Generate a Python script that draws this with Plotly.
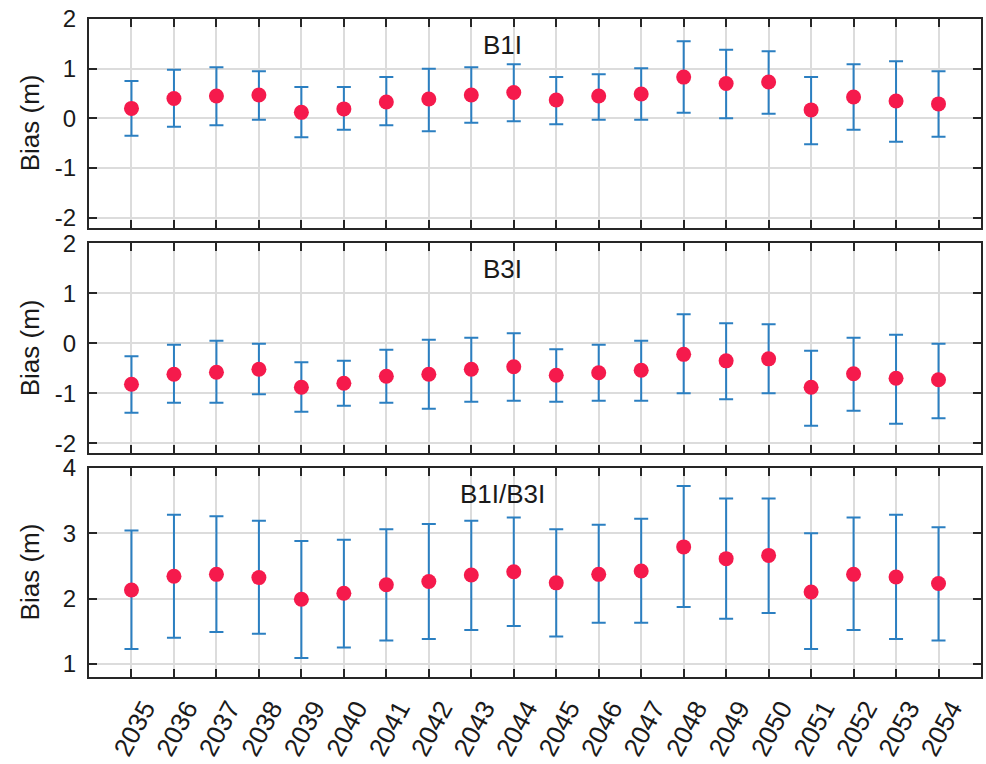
import plotly.graph_objects as go
from plotly.subplots import make_subplots

years = list(range(2035, 2055))

# B1I bias: mean, upper and lower bounds (m)
b1i_mean = [0.20, 0.40, 0.45, 0.47, 0.12, 0.19, 0.33, 0.39, 0.47, 0.52,
            0.37, 0.45, 0.49, 0.83, 0.70, 0.73, 0.17, 0.43, 0.35, 0.29]
b1i_high = [0.75, 0.98, 1.03, 0.95, 0.63, 0.63, 0.83, 1.00, 1.03, 1.09,
            0.83, 0.89, 1.01, 1.55, 1.38, 1.35, 0.83, 1.09, 1.15, 0.95]
b1i_low = [-0.35, -0.17, -0.14, -0.03, -0.38, -0.23, -0.14, -0.26, -0.09, -0.06,
           -0.12, -0.03, -0.03, 0.11, 0.00, 0.09, -0.52, -0.23, -0.47, -0.37]

# B3I bias
b3i_mean = [-0.82, -0.62, -0.58, -0.52, -0.88, -0.80, -0.66, -0.62, -0.52, -0.47,
            -0.64, -0.59, -0.54, -0.22, -0.35, -0.31, -0.88, -0.61, -0.70, -0.73]
b3i_high = [-0.26, -0.03, 0.05, -0.01, -0.38, -0.35, -0.13, 0.07, 0.11, 0.20,
            -0.12, -0.03, 0.05, 0.58, 0.40, 0.38, -0.15, 0.11, 0.17, -0.01]
b3i_low = [-1.39, -1.19, -1.19, -1.02, -1.37, -1.25, -1.19, -1.31, -1.17, -1.15,
           -1.17, -1.15, -1.15, -1.00, -1.12, -1.00, -1.65, -1.35, -1.61, -1.50]

# B1I/B3I ionosphere-free bias
if_mean = [2.13, 2.34, 2.37, 2.32, 1.99, 2.08, 2.21, 2.26, 2.36, 2.41,
           2.24, 2.37, 2.42, 2.79, 2.61, 2.66, 2.10, 2.37, 2.33, 2.23]
if_high = [3.04, 3.28, 3.26, 3.19, 2.88, 2.90, 3.06, 3.14, 3.19, 3.24,
           3.06, 3.13, 3.22, 3.72, 3.53, 3.53, 3.00, 3.24, 3.28, 3.09]
if_low = [1.23, 1.40, 1.49, 1.46, 1.09, 1.25, 1.36, 1.38, 1.52, 1.58,
          1.42, 1.63, 1.63, 1.87, 1.69, 1.78, 1.23, 1.52, 1.38, 1.36]

bias_ticks = [-2, -1, 0, 1, 2]
bias_labels = ["-2", "-1", "0", "1", "2"]
if_ticks = [1, 2, 3, 4]
if_labels = ["1", "2", "3", "4"]

panels = [
    ("B1I", b1i_mean, b1i_high, b1i_low, [-2.2, 2.0], bias_ticks, bias_labels),
    ("B3I", b3i_mean, b3i_high, b3i_low, [-2.2, 2.0], bias_ticks, bias_labels),
    ("B1I/B3I", if_mean, if_high, if_low, [0.8, 4.0], if_ticks, if_labels),
]

MARKER = "#F51A4C"
ERR = "#2B7FC1"
AXIS = "#262626"
GRID = "#DCDCDC"
TEXT = "#1a1a1a"
FONT = "Liberation Sans, Arial, sans-serif"
FS = 26
FS_Y = 24

fig = make_subplots(rows=3, cols=1, shared_xaxes=False, vertical_spacing=0.02)

domains = [[0.683, 1.0], [0.340, 0.659], [0.0, 0.318]]

for i, (name, mean, hi, lo, yr, yt, ylab) in enumerate(panels, start=1):
    plus = [h - m for h, m in zip(hi, mean)]
    minus = [m - l for m, l in zip(mean, lo)]
    fig.add_trace(
        go.Scatter(
            x=years, y=mean, mode="markers",
            marker=dict(color=MARKER, size=15, line=dict(width=0)),
            error_y=dict(type="data", symmetric=False, array=plus, arrayminus=minus,
                         color=ERR, thickness=2, width=7),
            showlegend=False,
        ),
        row=i, col=1,
    )
    xa = "xaxis" if i == 1 else f"xaxis{i}"
    ya = "yaxis" if i == 1 else f"yaxis{i}"
    fig.layout[xa].update(
        range=[2034, 2055], tickmode="array", tickvals=years,
        ticktext=[str(y) for y in years],
        showticklabels=(i == 3), tickangle=-62,
        ticklabelshift=13, ticklabelstandoff=4,
        ticks="inside", ticklen=8, tickwidth=2, tickcolor=AXIS,
        showline=True, linecolor=AXIS, linewidth=2, mirror="allticks",
        showgrid=True, gridcolor=GRID, gridwidth=1.5, zeroline=False,
        tickfont=dict(family=FONT, size=FS, color=TEXT),
    )
    fig.layout[ya].update(
        domain=domains[i - 1], range=yr, tickmode="array", tickvals=yt, ticktext=ylab,
        ticklabelstandoff=6,
        ticks="inside", ticklen=8, tickwidth=2, tickcolor=AXIS,
        showline=True, linecolor=AXIS, linewidth=2, mirror="allticks",
        showgrid=True, gridcolor=GRID, gridwidth=1.5, zeroline=False,
        tickfont=dict(family=FONT, size=FS_Y, color=TEXT),
    )
    xd = "x domain" if i == 1 else f"x{i} domain"
    yd = "y domain" if i == 1 else f"y{i} domain"
    # panel label
    fig.add_annotation(
        text=name, xref=xd, yref=yd,
        x=0.464, y=1.0, yshift=-26, xanchor="center", yanchor="middle",
        showarrow=False, font=dict(family=FONT, size=FS, color=TEXT),
    )
    # y-axis title, kept at the same horizontal position in every panel
    fig.add_annotation(
        text="Bias (m)", xref="paper", yref=yd,
        x=0, xshift=-59, y=0.5, xanchor="center", yanchor="middle",
        textangle=-90, showarrow=False,
        font=dict(family=FONT, size=FS, color=TEXT),
    )

fig.update_layout(
    width=986, height=764,
    margin=dict(l=89, r=3, t=19, b=83),
    paper_bgcolor="white", plot_bgcolor="white",
    font=dict(family=FONT, size=FS, color=TEXT),
)

fig.write_html("out.html")
